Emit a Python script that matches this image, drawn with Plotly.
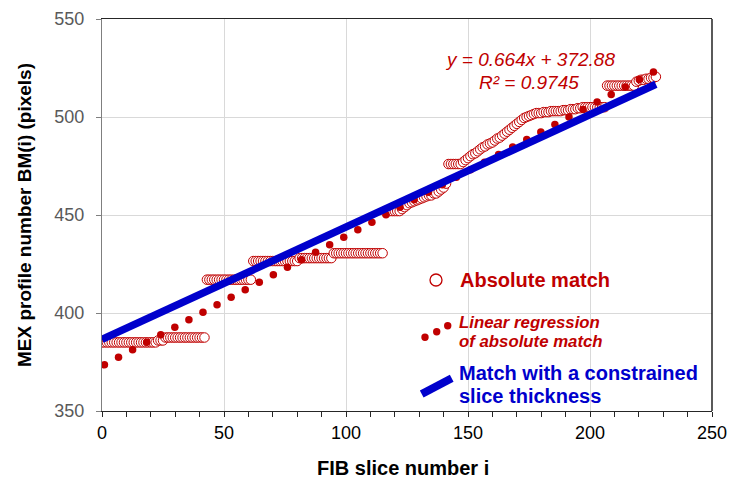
import numpy as np
import plotly.graph_objects as go

# ---------------- data ----------------
slice_index = list(range(0, 228))
absolute_match = (
    [385.0] * 23 + [386.0] * 3 + [387.5] * 17 +
    [417.0] * 19 + [426.5] * 19 + [428.0] * 14 + [430.5] * 21 +
    [452.0] * 7 +
    [453.0, 454.0, 455.0, 456.0, 456.5] +
    [457.0, 457.5, 458.0, 458.5, 459.0, 459.5, 460.0, 460.0] +
    [461.0, 461.0, 462.0, 463.0, 464.0, 466.0] +
    [476.0] * 6 +
    [477.0, 478.0, 479.0, 480.0, 481.0, 481.5, 482.5, 483.5, 484.5, 485.0,
     486.0, 486.5, 487.0, 488.0, 489.0] +
    [489.5, 490.5, 491.5, 492.5, 493.5, 494.5, 495.5, 496.5, 497.5, 498.5,
     499.5, 500.0, 500.5, 501.0] +
    [501.5, 502.0, 502.0, 502.0, 502.5, 502.5, 502.5, 503.0, 503.0, 503.0,
     503.0, 503.0, 503.5, 503.5, 503.5, 504.0, 504.0, 504.0, 504.5, 504.5] +
    [505.0] * 10 +
    [516.0] * 12 +
    [518.0, 518.5, 519.0, 519.0, 519.5, 519.5, 520.0, 520.0, 520.5]
)

# Excel trendline shown on the chart
reg_slope = 0.664
reg_intercept = 372.88
reg_r2 = 0.9745

# constrained slice thickness line
constrained_x = [0, 227]
constrained_y = [386.5, 516.7]

x_ticks = [0, 50, 100, 150, 200, 250]
y_ticks = [350, 400, 450, 500, 550]

RED = "#C00000"
BLUE = "#0000CC"
FONT = "Liberation Sans, Arial, sans-serif"

W, H = 730, 479
ML, MR, MT, MB = 102, 18, 19, 68
PW, PH = W - ML - MR, H - MT - MB


def px(xp):
    return (xp - ML) / PW


def py(yp):
    return (H - MB - yp) / PH


# trendline drawn as round dots
reg_x = np.linspace(min(slice_index) + 1, max(slice_index) - 1, 40)
reg_y = reg_slope * reg_x + reg_intercept

fig = go.Figure()
fig.add_trace(go.Scatter(
    x=slice_index, y=absolute_match, mode="markers",
    marker=dict(symbol="circle", size=9.5, color="white",
                line=dict(color=RED, width=1)),
    showlegend=False, hoverinfo="skip"))
fig.add_trace(go.Scatter(
    x=reg_x, y=reg_y, mode="markers",
    marker=dict(symbol="circle", size=7.5, color=RED, line=dict(width=0)),
    showlegend=False, hoverinfo="skip"))
fig.add_trace(go.Scatter(
    x=constrained_x, y=constrained_y, mode="lines",
    line=dict(color=BLUE, width=7.5),
    showlegend=False, hoverinfo="skip"))

fig.update_layout(
    width=W, height=H,
    margin=dict(l=ML, r=MR, t=MT, b=MB, pad=0, autoexpand=False),
    paper_bgcolor="white", plot_bgcolor="white",
    font=dict(family=FONT, size=18, color="#000000"),
    showlegend=False,
    xaxis=dict(range=[0, 250], tickvals=x_ticks, ticktext=[str(v) for v in x_ticks],
               automargin=False,
               showgrid=True, gridcolor="#D9D9D9", gridwidth=1,
               zeroline=False, showline=True, linecolor="#262626", linewidth=1.3,
               mirror=True, ticks="outside", ticklen=5, tickcolor="#262626",
               tickfont=dict(family=FONT, size=18, color="#000000"),
               minor=dict(dtick=10, tick0=0, ticks="outside", ticklen=5,
                          tickcolor="#262626", showgrid=False)),
    yaxis=dict(range=[350, 550], tickvals=y_ticks, ticktext=[str(v) for v in y_ticks],
               automargin=False,
               showgrid=True, gridcolor="#D9D9D9", gridwidth=1,
               zeroline=False, showline=True, linecolor="#7F7F7F", linewidth=1.3,
               ticks="outside", ticklen=5, tickcolor="#7F7F7F",
               ticklabelstandoff=8,
               tickfont=dict(family=FONT, size=18, color="#595959")),
)

shapes = [
    # right frame line
    dict(type="line", xref="paper", yref="paper", x0=1, x1=1, y0=0, y1=1,
         line=dict(color="#000000", width=1.3)),
    # legend icons
    dict(type="circle", xref="paper", yref="paper",
         x0=px(430), x1=px(442), y0=py(286), y1=py(274),
         line=dict(color=RED, width=1.3), fillcolor="white"),
    dict(type="line", xref="paper", yref="paper",
         x0=px(421.7), y0=py(394), x1=px(451.7), y1=py(378.3),
         line=dict(color=BLUE, width=8)),
]
for cx, cy in [(425, 337.3), (436.7, 331.7), (447.7, 325.7)]:
    shapes.append(dict(type="circle", xref="paper", yref="paper",
                       x0=px(cx - 3.7), x1=px(cx + 3.7),
                       y0=py(cy + 3.7), y1=py(cy - 3.7),
                       line=dict(width=0), fillcolor=RED))
fig.update_layout(shapes=shapes)

ann = []


def add_text(text, x, y, size, color, weight="normal", style="normal",
             xanchor="left", angle=0):
    ann.append(dict(text=text, xref="paper", yref="paper", x=px(x), y=py(y),
                    xanchor=xanchor, yanchor="middle", showarrow=False,
                    textangle=angle, borderpad=0,
                    font=dict(family=FONT, size=size, color=color,
                              weight=weight, style=style)))


add_text(f"y = {reg_slope}x + {reg_intercept}", 530, 60, 19, RED,
         style="italic", xanchor="center")
add_text(f"R² = {reg_r2}", 529, 82, 19, RED, style="italic", xanchor="center")

add_text("Absolute match", 459, 280, 20, RED, weight="bold")
add_text("Linear regression", 458, 322, 16.8, RED, weight="bold", style="italic")
add_text("of absolute match", 458, 341, 16.8, RED, weight="bold", style="italic")
add_text("Match with a constrained", 458, 373.3, 20, BLUE, weight="bold")
add_text("slice thickness", 458, 395.5, 20, BLUE, weight="bold")

add_text("FIB slice number i", 403, 468, 20, "#000000", weight="bold",
         xanchor="center")
add_text("MEX profile number BM(i) (pixels)", 24, 215, 19, "#000000",
         weight="bold", xanchor="center", angle=-90)

fig.update_layout(annotations=ann)

fig.write_html("out.html")
